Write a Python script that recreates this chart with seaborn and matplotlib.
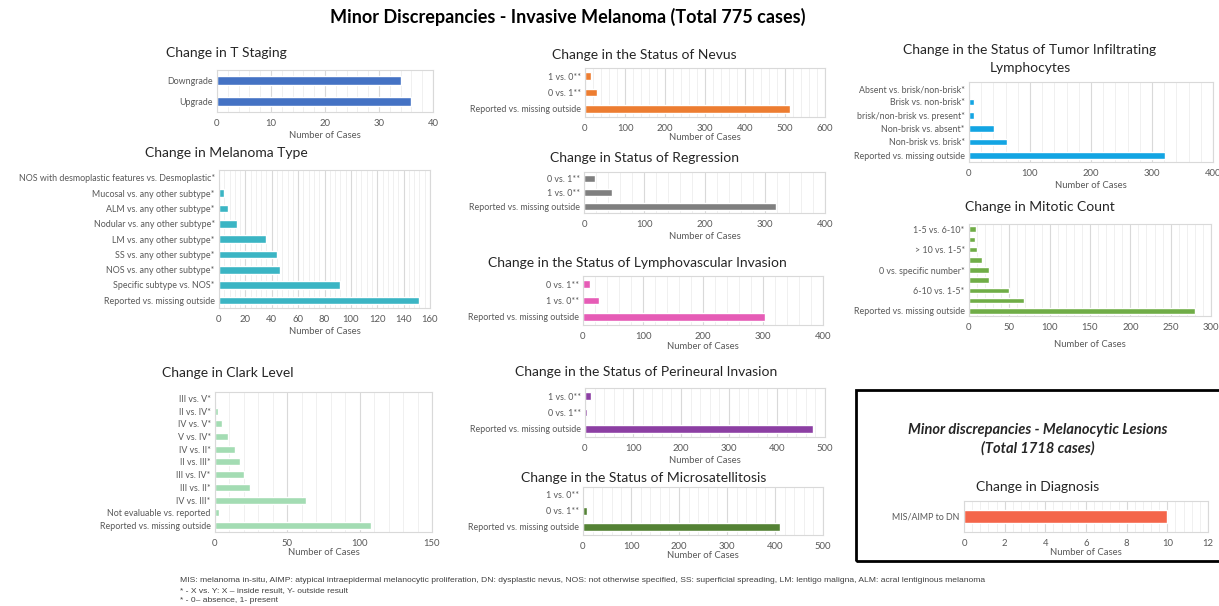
import numpy as np
import pandas as pd
import seaborn as sns
from matplotlib import pyplot as plt
from matplotlib.patches import Rectangle
from matplotlib.ticker import MultipleLocator

# %%
# Datos (orden de arriba hacia abajo)
t_labels = ["Downgrade", "Upgrade"]
t_values = [34, 36]

type_labels = ["NOS with desmoplastic features vs. Desmoplastic*",
               "Mucosal vs. any other subtype*", "ALM vs. any other subtype*",
               "Nodular vs. any other subtype*", "LM vs. any other subtype*",
               "SS vs. any other subtype*", "NOS vs. any other subtype*",
               "Specific subtype vs. NOS*", "Reported vs. missing outside"]
type_values = [1, 4, 7, 14, 36, 44, 46, 92, 152]

clark_labels = ["III vs. V*", "II vs. IV*", "IV vs. V*", "V vs. IV*", "IV vs. II*",
                "II vs. III*", "III vs. IV*", "III vs. II*", "IV vs. III*",
                "Not evaluable vs. reported", "Reported vs. missing outside"]
clark_values = [1, 2, 5, 9, 14, 17, 20, 24, 63, 3, 108]

nevus_labels = ["1 vs. 0**", "0 vs. 1**", "Reported vs. missing outside"]
nevus_values = [14, 31, 512]

regr_labels = ["0 vs. 1**", "1 vs. 0**", "Reported vs. missing outside"]
regr_values = [18, 46, 318]

lvi_labels = ["0 vs. 1**", "1 vs. 0**", "Reported vs. missing outside"]
lvi_values = [11, 27, 303]

pni_labels = ["1 vs. 0**", "0 vs. 1**", "Reported vs. missing outside"]
pni_values = [12, 5, 476]

micro_labels = ["1 vs. 0**", "0 vs. 1**", "Reported vs. missing outside"]
micro_values = [2, 9, 411]

til_labels = ["Absent vs. brisk/non-brisk*", "Brisk vs. non-brisk*",
              "brisk/non-brisk vs. present*", "Non-brisk vs. absent*",
              "Non-brisk vs. brisk*", "Reported vs. missing outside"]
til_values = [2, 9, 9, 41, 62, 321]

# en el original solo se ve una etiqueta de cada dos
mito_labels = ["1-5 vs. 6-10*", "", "> 10 vs. 1-5*", "", "0 vs. specific number*",
               "", "6-10 vs. 1-5*", "", "Reported vs. missing outside"]
mito_values = [9, 8, 10, 16, 25, 25, 49, 68, 280]

diag_labels = ["MIS/AIMP to DN"]
diag_values = [10]

# %%
sns.set_theme(style="white")
plt.rcParams["font.family"] = ["Lato", "DejaVu Sans"]

W, H = 1219, 606
fig = plt.figure(figsize=(W / 100, H / 100), dpi=100)
fig.patch.set_facecolor("white")


def panel(box, labels, values, color, xmax, step, pad=2, width=0.55):
    x0, y0, x1, y1 = box
    ax = fig.add_axes([x0 / W, 1 - y1 / H, (x1 - x0) / W, (y1 - y0) / H])
    pos = list(range(len(values)))
    sns.barplot(x=values, y=pos, orient="h", color=color, saturation=1,
                width=width, ax=ax)
    ax.set_xlim(0, xmax)
    ax.xaxis.set_major_locator(MultipleLocator(step))
    ax.xaxis.set_minor_locator(MultipleLocator(step / 5))
    ax.set_axisbelow(True)
    ax.grid(axis="x", which="major", color="#D9D9D9", lw=0.8)
    ax.grid(axis="x", which="minor", color="#EEEEEE", lw=0.6)
    ax.grid(axis="y", visible=False)
    ax.set_yticks(pos)
    ax.set_yticklabels(labels)
    ax.tick_params(axis="both", which="both", length=0, labelsize=6.4,
                   colors="#595959", pad=3)
    ax.tick_params(axis="x", pad=5, labelsize=6.8)
    for s in ax.spines.values():
        s.set_color("#D9D9D9")
        s.set_linewidth(0.8)
    ax.set_ylabel("")
    ax.set_xlabel("Number of Cases", fontsize=6.8, color="#595959", labelpad=pad)
    return ax


def titulo(x, y, txt, size=10):
    fig.text(x / W, 1 - y / H, txt, ha="center", va="center", fontsize=size,
             color="#262626")


fig.text(568 / W, 1 - 17 / H, "Minor Discrepancies - Invasive Melanoma (Total 775 cases)",
         ha="center", va="center", fontsize=13, fontweight="bold", color="black")

# columna izquierda
panel((217, 70, 433, 112), t_labels, t_values, "#4472C4", 40, 10, width=0.45)
titulo(226, 53, "Change in T Staging")
panel((219, 170, 430, 308), type_labels, type_values, "#3BB5C4", 160, 20, width=0.5)
titulo(226, 153, "Change in Melanoma Type")
panel((215, 392, 432, 532), clark_labels, clark_values, "#A3DCB3", 150, 50, pad=0, width=0.55)
titulo(228, 373, "Change in Clark Level")

# columna central
panel((585, 68, 825, 117), nevus_labels, nevus_values, "#ED7D31", 600, 100, pad=0, width=0.45)
titulo(644, 55, "Change in the Status of Nevus")
panel((584, 172, 825, 213), regr_labels, regr_values, "#7F7F7F", 400, 100, width=0.5)
titulo(645, 158, "Change in Status of Regression")
panel((583, 276, 823, 325), lvi_labels, lvi_values, "#E65CB6", 400, 100, pad=1, width=0.45)
titulo(637, 263, "Change in the Status of Lymphovascular Invasion")
panel((585, 388, 825, 437), pni_labels, pni_values, "#8C3FA3", 500, 100, width=0.45)
titulo(646, 372, "Change in the Status of Perineural Invasion")
panel((583, 487, 823, 535), micro_labels, micro_values, "#548235", 500, 100, pad=0, width=0.45)
titulo(644, 478, "Change in the Status of Microsatellitosis")

# columna derecha
panel((969, 82, 1213, 162), til_labels, til_values, "#13A5E3", 400, 100, width=0.5)
titulo(1030, 50, "Change in the Status of Tumor Infiltrating")
titulo(1030, 68, "Lymphocytes")
panel((969, 224, 1211, 316), mito_labels, mito_values, "#70AD47", 300, 50, pad=6, width=0.55)
titulo(1040, 207, "Change in Mitotic Count")

# recuadro de lesiones melanociticas
fig.patches.append(Rectangle((856 / W, 1 - 561 / H), 400 / W, 171 / H,
                             transform=fig.transFigure, fill=False,
                             edgecolor="black", lw=2))
fig.text(1038 / W, 1 - 430 / H, "Minor discrepancies - Melanocytic Lesions",
         ha="center", va="center", fontsize=10.5, fontweight="bold", style="italic")
fig.text(1038 / W, 1 - 448 / H, "(Total 1718 cases)",
         ha="center", va="center", fontsize=10.5, fontweight="bold", style="italic")
panel((964, 501, 1208, 532), diag_labels, diag_values, "#F4654A", 12, 2, pad=0, width=0.45)
titulo(1038, 487, "Change in Diagnosis")

# notas al pie
notas = ["MIS: melanoma in-situ, AIMP: atypical intraepidermal melanocytic proliferation, "
         "DN: dysplastic nevus, NOS: not otherwise specified, SS: superficial spreading, "
         "LM: lentigo maligna, ALM: acral lentiginous melanoma",
         "* - X vs. Y: X \u2013 inside result, Y- outside result",
         "* - 0\u2013 absence, 1- present"]
for i, n in enumerate(notas):
    fig.text(180 / W, 1 - (580 + 10.5 * i) / H, n, ha="left", va="center",
             fontsize=6.1, color="#404040",
             family=["Liberation Sans Narrow", "Liberation Sans"])

fig.savefig("out.png", dpi=100)
